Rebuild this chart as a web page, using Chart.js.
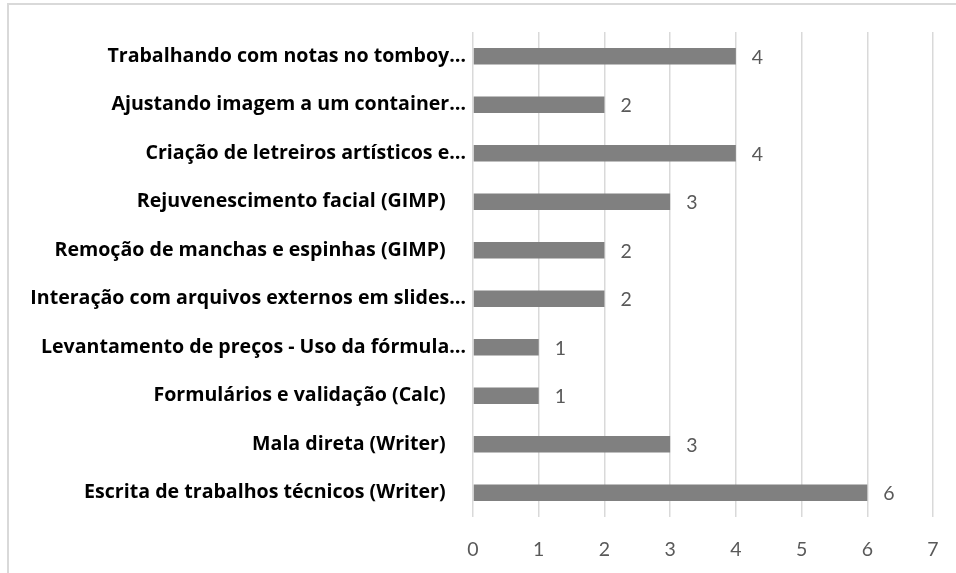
<!DOCTYPE html>
<html>
<head>
<meta charset="utf-8">
<script src="https://cdn.jsdelivr.net/npm/chart.js@4/dist/chart.umd.min.js"></script>
<style>
    html, body { margin: 0; padding: 0; background: #fff; overflow: hidden; }
    #frame { position: absolute; left: 7px; top: 3px; width: 1000px; height: 700px; border: 2px solid #d9d9d9; box-sizing: border-box; }
    #wrap { position: absolute; left: 0; top: 0; width: 956px; height: 573px; }
</style>
</head>
<body>
<div id="frame"></div>
<div id="wrap"><canvas id="chart" width="956" height="573"></canvas></div>
<script>
// categories, top to bottom
const categories = [
    'Trabalhando com notas no tomboy…',
    'Ajustando imagem a um container…',
    'Criação de letreiros artísticos e…',
    'Rejuvenescimento facial (GIMP)    ',
    'Remoção de manchas e espinhas (GIMP)    ',
    'Interação com arquivos externos em slides…',
    'Levantamento de preços - Uso da fórmula…',
    'Formulários e validação (Calc)    ',
    'Mala direta (Writer)    ',
    'Escrita de trabalhos técnicos (Writer)    '
];
const counts = [4, 2, 4, 3, 2, 2, 1, 1, 3, 6];
const xTicks = [0, 1, 2, 3, 4, 5, 6, 7];

const valueLabels = {
    id: 'valueLabels',
    afterDatasetsDraw(chart) {
        const ctx = chart.ctx;
        const meta = chart.getDatasetMeta(0);
        ctx.save();
        ctx.font = '19.5px Lato, sans-serif';
        ctx.fillStyle = '#595959';
        ctx.textAlign = 'left';
        ctx.textBaseline = 'middle';
        meta.data.forEach((bar, i) => {
            ctx.fillText(String(counts[i]), bar.x + 16, bar.y + 1);
        });
        ctx.restore();
    }
};

const ctx = document.getElementById('chart').getContext('2d');
new Chart(ctx, {
    type: 'bar',
    data: {
        labels: categories,
        datasets: [{
            data: counts,
            backgroundColor: '#808080',
            borderWidth: 0,
            categoryPercentage: 1,
            barPercentage: 0.345
        }]
    },
    options: {
        indexAxis: 'y',
        responsive: false,
        animation: false,
        layout: { padding: { left: 0, right: 23, top: 32, bottom: 0 } },
        plugins: {
            legend: { display: false },
            tooltip: { enabled: false }
        },
        scales: {
            x: {
                min: 0,
                max: 7,
                afterBuildTicks: s => { s.ticks = xTicks.map(v => ({ value: v })); },
                afterFit: s => { s.height = 56; s.paddingLeft = 0; s.paddingRight = 0; },
                grid: { color: '#d9d9d9', lineWidth: 1.5, drawTicks: false },
                border: { display: false },
                ticks: { color: '#595959', font: { family: 'Lato', size: 19.5 }, padding: 21 }
            },
            y: {
                afterFit: s => { s.width = 473; },
                grid: { display: false, drawTicks: false },
                border: { display: false },
                ticks: { color: '#000', font: { family: '"Open Sans"', size: 19.6, weight: 'bold' }, padding: 7, autoSkip: false }
            }
        }
    },
    plugins: [valueLabels]
});
</script>
</body>
</html>
